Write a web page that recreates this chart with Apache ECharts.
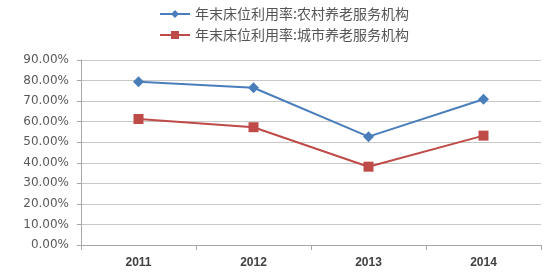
<!DOCTYPE html>
<html><head><meta charset="utf-8">
<script src="https://cdn.jsdelivr.net/npm/echarts@6/dist/echarts.min.js"></script>
<style>html,body{margin:0;padding:0;background:#fff}#c{width:553px;height:272px}</style>
</head><body><div id="c"></div>
<script>
const categories = ['2011','2012','2013','2014'];
const seriesNames = ['年末床位利用率:农村养老服务机构','年末床位利用率:城市养老服务机构'];
const rural = [79.4, 76.5, 52.7, 70.9];
const urban = [61.3, 57.3, 38.1, 53.2];
const yTicks = [0,10,20,30,40,50,60,70,80,90];

const chart = echarts.init(document.getElementById('c'));
chart.setOption({
  animation:false,
  backgroundColor:'#fff',
  legend:{
    orient:'vertical', left:154, top:2, itemGap:7, itemWidth:30, itemHeight:10,
    textStyle:{color:'#555', fontSize:14, fontFamily:'Noto Sans CJK SC'},
    data:seriesNames
  },
  grid:{left:81, right:12, top:60, bottom:27},
  xAxis:{
    type:'category', data:categories, boundaryGap:true,
    axisLine:{lineStyle:{color:'#a6a6a6'}},
    axisTick:{show:true, length:5, lineStyle:{color:'#a6a6a6'}},
    axisLabel:{color:'#404040', fontSize:12, fontFamily:'Liberation Sans', fontWeight:'bold', margin:12}
  },
  yAxis:{
    type:'value', min:yTicks[0], max:yTicks[yTicks.length-1], interval:10,
    axisLine:{show:true, lineStyle:{color:'#a6a6a6'}},
    axisTick:{show:true, length:4, lineStyle:{color:'#a6a6a6'}},
    axisLabel:{color:'#595959', fontSize:12, fontFamily:'DejaVu Sans', margin:12,
      formatter:v=>v.toFixed(2)+'%'},
    splitLine:{lineStyle:{color:'#c8c8c8'}}
  },
  series:[
    {name:seriesNames[0], type:'line', data:rural, symbol:'diamond', symbolSize:11,
     itemStyle:{color:'#4a7ebb'}, lineStyle:{width:2, color:'#4a7ebb'}},
    {name:seriesNames[1], type:'line', data:urban, symbol:'rect', symbolSize:10,
     itemStyle:{color:'#be4b48'}, lineStyle:{width:2, color:'#be4b48'}}
  ]
});
</script></body></html>
